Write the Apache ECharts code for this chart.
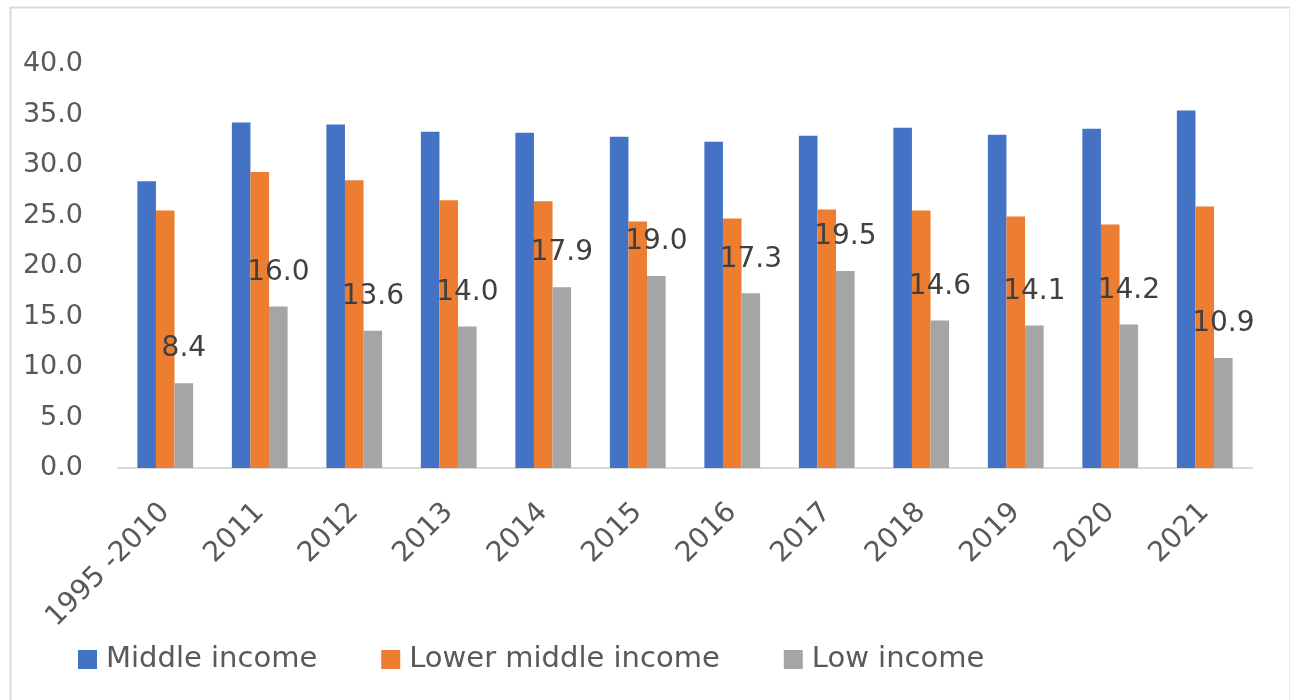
<!DOCTYPE html>
<html>
<head>
<meta charset="utf-8">
<script src="https://cdn.jsdelivr.net/npm/echarts@6/dist/echarts.min.js"></script>
<style>html,body{margin:0;padding:0;background:#fff;}#c{width:1290px;height:700px;}</style>
</head>
<body>
<div id="c"></div>
<script>
const categories = ['1995 -2010','2011','2012','2013','2014','2015','2016','2017','2018','2019','2020','2021'];
const middleIncome = [28.4, 34.2, 34.0, 33.3, 33.2, 32.8, 32.3, 32.9, 33.7, 33.0, 33.6, 35.4];
const lowerMiddleIncome = [25.5, 29.3, 28.5, 26.5, 26.4, 24.4, 24.7, 25.6, 25.5, 24.9, 24.1, 25.9];
const lowIncome = [8.4, 16.0, 13.6, 14.0, 17.9, 19.0, 17.3, 19.5, 14.6, 14.1, 14.2, 10.9];
const seriesNames = ['Middle income', 'Lower middle income', 'Low income'];

const FONT = 'DejaVu Sans';
const chart = echarts.init(document.getElementById('c'), null, {renderer: 'canvas'});
chart.setOption({
  animation: false,
  backgroundColor: '#fff',
  graphic: [{
    type: 'rect', left: 8, top: 5,
    shape: {width: 1280, height: 710},
    style: {fill: 'none', stroke: '#d9d9d9', lineWidth: 2}
  }],
  grid: {left: 118, right: 38, top: 64, bottom: 232, containLabel: false},
  legend: {
    left: 73, top: 640,
    itemWidth: 19, itemHeight: 19, itemGap: 64,
    icon: 'rect',
    textStyle: {fontFamily: FONT, fontSize: 29, color: '#595959', padding: [0, 0, 0, 4]},
    data: seriesNames
  },
  xAxis: {
    type: 'category', data: categories,
    axisLine: {lineStyle: {color: '#d9d9d9', width: 2}},
    axisTick: {show: false},
    axisLabel: {rotate: 45, margin: 40, fontFamily: FONT, fontSize: 28, color: '#595959', interval: 0}
  },
  yAxis: {
    type: 'value', min: 0, max: 40, interval: 5,
    axisLine: {show: false}, axisTick: {show: false},
    splitLine: {show: false},
    axisLabel: {formatter: v => v.toFixed(1), fontFamily: FONT, fontSize: 27, color: '#595959', margin: 35}
  },
  series: [
    {name: seriesNames[0], type: 'bar', data: middleIncome, barGap: '0%', barCategoryGap: '41%',
     itemStyle: {color: '#4472C4'}},
    {name: seriesNames[1], type: 'bar', data: lowerMiddleIncome, barGap: '0%', barCategoryGap: '41%',
     itemStyle: {color: '#ED7D31'}},
    {name: seriesNames[2], type: 'bar', data: lowIncome, barGap: '0%', barCategoryGap: '41%',
     itemStyle: {color: '#A5A5A5'},
     label: {show: true, position: 'top', distance: 20, formatter: p => p.value.toFixed(1),
             fontFamily: FONT, fontSize: 28, color: '#404040'}}
  ]
});
</script>
</body>
</html>
